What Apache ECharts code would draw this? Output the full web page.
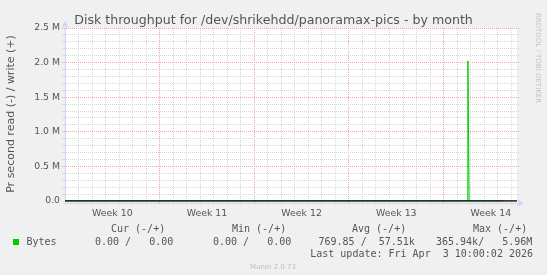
<!DOCTYPE html>
<html><head><meta charset="utf-8">
<script src="https://cdn.jsdelivr.net/npm/echarts@6/dist/echarts.min.js"></script>
<style>html,body{margin:0;padding:0;background:#f0f0f0;}#c{width:547px;height:275px;}</style>
</head><body><div id="c"></div>
<script>
// ---- data ----
const titleText = 'Disk throughput for /dev/shrikehdd/panoramax-pics - by month';
const yAxisName = 'Pr second read (-) / write (+)';
const weekLabels = ['Week 10', 'Week 11', 'Week 12', 'Week 13', 'Week 14'];
const weekCenters = [3.5, 10.5, 17.5, 24.5, 31.5];           // days since Mon 2 Mar 2026 00:00
const yTickValues = [0, 500000, 1000000, 1500000, 2000000, 2500000];
const yTickLabels = ['0.0', '0.5 M', '1.0 M', '1.5 M', '2.0 M', '2.5 M'];
const writeDays  = [0, 29.79, 29.80, 29.89, 32.42];          // days since Mon 2 Mar 2026 00:00
const writeBytes = [0, 0, 2027000, 0, 0];                    // bytes per second (write, +)
const readDays   = [0, 33.43];                               // read (-) side, flat at zero
const readBytes  = [0, 0];
const seriesName = 'Bytes';
const statHeaders = ['Cur (-/+)', 'Min (-/+)', 'Avg (-/+)', 'Max (-/+)'];
const statValues  = ['0.00 /   0.00', '0.00 /   0.00', '769.85 /  57.51k', '365.94k/   5.96M'];
const lastUpdate = 'Last update: Fri Apr  3 10:00:02 2026';
const footerText = 'Munin 2.0.73';
const watermark = 'RRDTOOL / TOBI OETIKER';

// ---- axis extents / grid steps ----
const X_MIN = 0, X_MAX = 33.43, DAY_STEP = 1, WEEK = 7;
const Y_MIN = 0, Y_MAX = 2500000, Y_MINOR = 100000, Y_MAJOR = 500000;

// ---- styling ----
const FONT = '#555555', AXIS = '#cfd6f8', MINOR = '#d6d6d6', MAJOR = '#eba6a6', GREEN = '#00cc00';
const SANS = '"DejaVu Sans"', MONO = '"DejaVu Sans Mono"';

function txt(text, x, y, size, family, color, align, rot) {
  return {
    type: 'text', x: x, y: y, rotation: rot || 0, silent: true,
    style: {
      text: text, font: size + 'px ' + family, fill: color,
      align: align, textAlign: align, verticalAlign: 'middle', textVerticalAlign: 'middle'
    }
  };
}

const headerX = [111, 232, 352, 473];
const valueX = [95, 213, 318.5, 436];
const graphics = [
  txt(titleText, 273.5, 21, 12.6, SANS, FONT, 'center'),
  txt(yAxisName, 11, 114, 11, SANS, FONT, 'center', Math.PI / 2),
  txt(watermark, 537.5, 58, 7, SANS, '#c4c4c4', 'center', -Math.PI / 2),
  { type: 'rect', silent: true, shape: { x: 13, y: 239, width: 6, height: 6 }, style: { fill: GREEN } },
  txt(seriesName, 26.5, 242, 10, MONO, FONT, 'left'),
  txt(lastUpdate, 533, 254, 10, MONO, FONT, 'right'),
  txt(footerText, 273, 267, 7, SANS, '#bbbbbb', 'center')
];
statHeaders.forEach((h, i) => graphics.push(txt(h, headerX[i], 229, 10, MONO, FONT, 'left')));
statValues.forEach((v, i) => graphics.push(txt(v, valueX[i], 242, 10, MONO, FONT, 'left')));

// grid line positions (axis ticks, not data)
const vGrid = [];
for (let d = X_MIN + DAY_STEP; d < X_MAX; d += DAY_STEP) vGrid.push([d, 0]);
const hGrid = [];
for (let k = 1; k * Y_MINOR <= Y_MAX; k++) hGrid.push([X_MIN, k * Y_MINOR]);

function crisp(v) { return Math.round(v - 0.5) + 0.5; }

const arrowLine = { show: true, onZero: false, lineStyle: { color: AXIS, width: 1 },
  symbol: ['none', 'arrow'], symbolSize: [6, 7], symbolOffset: [0, 7] };

const chart = echarts.init(document.getElementById('c'), null, { renderer: 'canvas' });
chart.setOption({
  backgroundColor: '#f0f0f0',
  animation: false,
  grid: { left: 65, top: 28, width: 452, height: 173, show: true, backgroundColor: '#ffffff', borderWidth: 0 },
  xAxis: {
    type: 'value', min: X_MIN, max: X_MAX, interval: DAY_STEP, offset: 2,
    axisLine: arrowLine,
    axisTick: { show: true, length: 2, lineStyle: { color: '#dddddd' } },
    splitLine: { show: false },
    axisLabel: {
      customValues: weekCenters,
      formatter: v => weekLabels[weekCenters.indexOf(v)],
      margin: 6, color: FONT, fontFamily: 'DejaVu Sans', fontSize: 9.4
    }
  },
  yAxis: {
    type: 'value', min: Y_MIN, max: Y_MAX, interval: Y_MINOR,
    axisLine: arrowLine,
    axisTick: { show: true, length: 2, lineStyle: { color: '#dddddd' } },
    splitLine: { show: false },
    axisLabel: {
      customValues: yTickValues,
      formatter: v => yTickLabels[yTickValues.indexOf(v)],
      margin: 5, color: FONT, fontFamily: 'DejaVu Sans', fontSize: 9.3
    }
  },
  series: [{
    // vertical grid: daily dotted grey, weekly dotted red
    type: 'custom', z: 1, silent: true, clip: false,
    data: vGrid,
    renderItem: function (params, api) {
      const d = api.value(0);
      const cs = params.coordSys;
      const x = crisp(api.coord([d, Y_MIN])[0]);
      const major = Math.abs(d / WEEK - Math.round(d / WEEK)) < 1e-6;
      return { type: 'line', shape: { x1: x, y1: cs.y, x2: x, y2: cs.y + cs.height + 3 },
        style: { stroke: major ? MAJOR : MINOR, lineWidth: 1, lineDash: [1, 1] } };
    }
  }, {
    // horizontal grid: 0.1 M dotted grey, 0.5 M dotted red
    type: 'custom', z: 1, silent: true, clip: false,
    data: hGrid,
    renderItem: function (params, api) {
      const v = api.value(1);
      const cs = params.coordSys;
      const y = crisp(api.coord([X_MIN, v])[1]);
      const major = Math.abs(v / Y_MAJOR - Math.round(v / Y_MAJOR)) < 1e-6;
      return { type: 'line', shape: { x1: cs.x - 3, y1: y, x2: cs.x + cs.width + 2, y2: y },
        style: { stroke: major ? MAJOR : MINOR, lineWidth: 1, lineDash: [1, 1] } };
    }
  }, {
    type: 'line', name: seriesName, z: 3,
    data: writeDays.map((d, i) => [d, writeBytes[i]]),
    showSymbol: false, symbol: 'none',
    lineStyle: { color: GREEN, width: 1 }, itemStyle: { color: GREEN }
  }, {
    type: 'line', name: 'read', z: 4,
    data: readDays.map((d, i) => [d, readBytes[i]]),
    showSymbol: false, symbol: 'none', silent: true,
    lineStyle: { color: '#000000', width: 1.4 }, itemStyle: { color: '#000000' }
  }],
  graphic: graphics
});
</script>
</body></html>
